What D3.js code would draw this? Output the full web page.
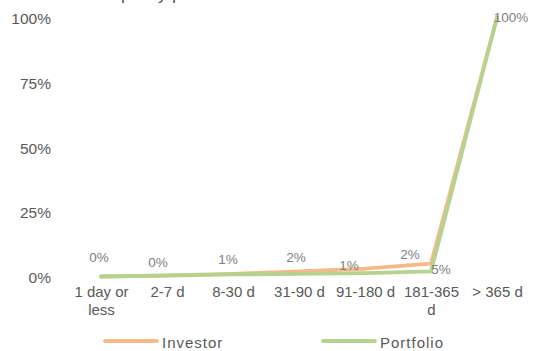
<!DOCTYPE html>
<html>
<head>
<meta charset="utf-8">
<script src="https://cdn.jsdelivr.net/npm/d3@7"></script>
<style>
  html, body { margin: 0; padding: 0; background: #fff; }
  svg { display: block; font-family: "Liberation Sans", Arial, sans-serif; }
</style>
</head>
<body>
<svg id="chart" width="533" height="351"></svg>
<script>
// ---- data ----
const categories = ["1 day or less", "2-7 d", "8-30 d", "31-90 d", "91-180 d", "181-365 d", "> 365 d"];
const investorValues = [0, 0.4, 1, 2, 3, 5, 100];
const portfolioValues = [0, 0.3, 0.8, 1, 1.3, 2, 100];
const yTicks = [0, 25, 50, 75, 100];
const dataLabels = ["0%", "0%", "1%", "2%", "1%", "2%", "5%", "100%"];
const dataLabelCategory = [0, 1, 2, 3, 4, 5, 5, 6];
const seriesNames = ["Investor", "Portfolio"];
const titleText = "Portfolio liquidity profile";

// ---- layout / style ----
const colors = { Investor: "#f7b98a", Portfolio: "#b5d28f" };
const labelOffsets = [[-2,-15],[-9,-8],[-5,-10],[-3,-9],[-16,1],[-21,-4.5],[10,10],[14,4.5]];

const svg = d3.select("#chart");

const x = d3.scalePoint().domain(categories).range([101, 497]);
const y = d3.scaleLinear().domain([0, 100]).range([276.5, 17.5]);

// title (cropped at top, as in the reference)
svg.append("text")
  .attr("x", 36).attr("y", -1)
  .attr("font-size", 18).attr("fill", "#595959")
  .text(titleText);

// y axis
const yAxis = svg.append("g")
  .attr("transform", "translate(53,0)")
  .call(d3.axisLeft(y).tickValues(yTicks).tickSize(0).tickPadding(2).tickFormat(d => d + "%"));
yAxis.select(".domain").remove();
yAxis.selectAll("text")
  .attr("font-size", 15.5).attr("fill", "#595959")
  .attr("font-family", "'Liberation Sans', Arial, sans-serif")
  .attr("dy", "0.4em");

// x axis
const xAxis = svg.append("g")
  .attr("transform", "translate(0,282)")
  .call(d3.axisBottom(x).tickSize(0).tickPadding(4));
xAxis.select(".domain").remove();
xAxis.selectAll("text")
  .attr("font-size", 15).attr("fill", "#595959")
  .attr("font-family", "'Liberation Sans', Arial, sans-serif")
  .each(function() { wrap(d3.select(this), 64); });

function wrap(text, width) {
  const words = text.text().split(/\s+/);
  const yAttr = text.attr("y");
  const dy = parseFloat(text.attr("dy")) || 0;
  text.text(null);
  let line = [];
  let lineNumber = 0;
  let tspan = text.append("tspan").attr("x", 0).attr("y", yAttr).attr("dy", dy + "em");
  for (const w of words) {
    line.push(w);
    tspan.text(line.join(" "));
    if (tspan.node().getComputedTextLength() > width && line.length > 1) {
      line.pop();
      tspan.text(line.join(" "));
      line = [w];
      lineNumber++;
      tspan = text.append("tspan").attr("x", 0).attr("y", yAttr)
        .attr("dy", (dy + lineNumber * 1.25) + "em").text(w);
    }
  }
}

// lines
const lineGen = d3.line()
  .x((d, i) => x(categories[i]))
  .y(d => y(d));

[["Investor", investorValues], ["Portfolio", portfolioValues]].forEach(([name, vals]) => {
  svg.append("path")
    .datum(vals)
    .attr("fill", "none")
    .attr("stroke", colors[name])
    .attr("stroke-width", 3.8)
    .attr("stroke-linejoin", "round")
    .attr("stroke-linecap", "round")
    .attr("d", lineGen);
});

// data labels
const labelValueAt = (k) => investorValues[dataLabelCategory[k]];
svg.append("g").selectAll("text")
  .data(dataLabels)
  .join("text")
  .attr("x", (d, k) => x(categories[dataLabelCategory[k]]) + labelOffsets[k][0])
  .attr("y", (d, k) => y(labelValueAt(k)) + labelOffsets[k][1])
  .attr("text-anchor", "middle")
  .attr("font-size", 13.5)
  .attr("fill", "#808080")
  .text(d => d);

// legend
const legendX = [105, 323];
const legend = svg.append("g");
seriesNames.forEach((name, i) => {
  const g = legend.append("g").attr("transform", `translate(${legendX[i]},341)`);
  g.append("line")
    .attr("x1", 0).attr("x2", 52).attr("y1", 0).attr("y2", 0)
    .attr("stroke", colors[name]).attr("stroke-width", 3.8)
    .attr("stroke-linecap", "round");
  g.append("text")
    .attr("x", 57).attr("y", 7)
    .attr("font-size", 15).attr("fill", "#595959")
    .attr("letter-spacing", 1)
    .text(name);
});
</script>
</body>
</html>
